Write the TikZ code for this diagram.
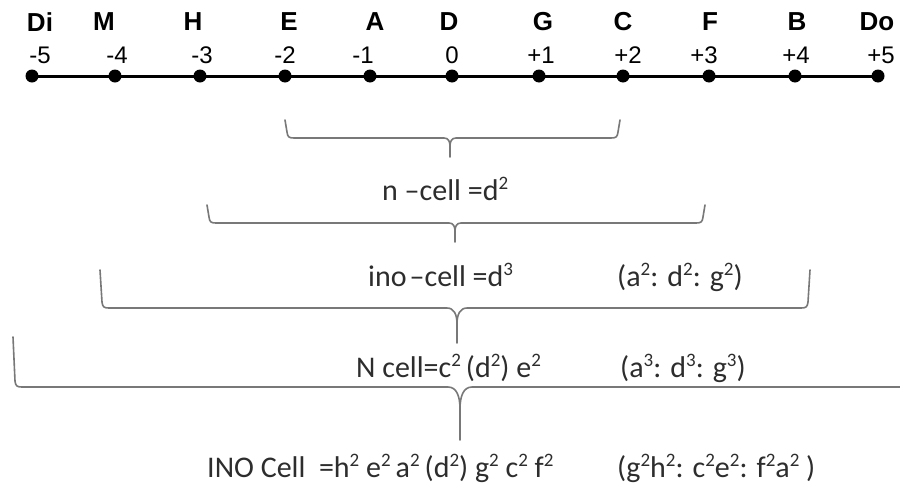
\documentclass[tikz,border=0pt]{standalone}
\usepackage{fontspec}
\setmainfont{Carlito}
\newfontfamily\arialfont{Liberation Sans}
\definecolor{bracegray}{RGB}{120,120,120}
\definecolor{txtgray}{RGB}{45,45,45}
\newcommand\spr[1]{\raisebox{0.36em}{\fontsize{19}{19}\selectfont #1}}
\newcommand\cbrace[8]{% left x, right x, top y, line y, tip x, bottom y, cusp w, cusp h
  \draw[bracestroke] (#1,#3) -- ({#1+2},{#4-6}) .. controls ({#1+2.6},{#4-1}) and ({#1+4},#4) .. ({#1+9},#4)
    -- ({#5-#7},#4) .. controls ({#5-0.3*#7},#4) and (#5,{#4+0.4*#8}) .. (#5,{#4+#8}) -- (#5,#6);
  \draw[bracestroke] (#2,#3) -- ({#2-2},{#4-6}) .. controls ({#2-2.6},{#4-1}) and ({#2-4},#4) .. ({#2-9},#4)
    -- ({#5+#7},#4) .. controls ({#5+0.3*#7},#4) and (#5,{#4+0.4*#8}) .. (#5,{#4+#8});
}
\begin{document}
\begin{tikzpicture}[x=1pt,y=-1pt,
  bracestroke/.style={draw=bracegray,line width=1.6pt,line cap=round,line join=round},
  dotnode/.style={circle,fill=black,inner sep=0pt,minimum size=13pt},
  letterlab/.style={font=\arialfont\bfseries\fontsize{26}{26}\selectfont,text=black,inner sep=0pt},
  numlab/.style={font=\arialfont\fontsize{24}{24}\selectfont,text=black,inner sep=0pt},
  celltext/.style={font=\fontsize{30}{30}\selectfont,text=txtgray,inner sep=0pt,anchor=base west}]
\useasboundingbox (0,0) rectangle (900,485);
\clip (0,0) rectangle (900,485);
\fill[white] (0,0) rectangle (900,485);
% number line points
\foreach \i/\x in {0/32,1/115,2/200,3/285,4/370,5/452,6/539,7/623,8/709,9/795,10/878}
  \coordinate (c\i) at (\x,76);
\draw[line width=3pt] (c0) -- (c10);
\foreach \i in {0,...,10} \node[dotnode] (p\i) at (c\i) {};
% letters
\foreach \n/\x/\t in {l0/40/Di,l1/104/M,l2/193/H,l3/289/E,l4/375/A,l5/449/D,l6/543/G,l7/623/C,l8/710/F,l9/797/B,l10/877/Do}
  \node[letterlab] (\n) at (\x,22) {\t};
% numbers
\foreach \n/\x/\t in {n0/40/-5,n1/117/-4,n2/202/-3,n3/285/-2,n4/363/-1,n5/452/0,n6/541/+1,n7/628/+2,n8/704/+3,n9/796/+4,n10/881/+5}
  \node[numlab] (\n) at (\x,55) {\t};
% braces
\cbrace{285}{620}{120}{138}{450}{157}{6}{8}
\cbrace{207}{705}{205}{223}{455}{242}{6}{8}
\cbrace{100}{810}{270}{308}{457}{343}{10}{16}
\cbrace{13}{930}{337}{387}{460}{440}{12}{22}
% texts
\node[celltext] (ncell) at (382,200) {n –cell =d\spr{2}};
\node[celltext] (inocell) at (368,286) {ino\hspace{0.1em}–cell =d\spr{3}};
\node[celltext] (ratioA) at (617,286) {(a\spr{2}: d\spr{2}: g\spr{2})};
\node[celltext] (Ncell) at (356,377) {N cell=c\spr{2}\,(d\spr{2}) e\spr{2}};
\node[celltext] (ratioB) at (620,377) {(a\spr{3}: d\spr{3}: g\spr{3})};
\node[celltext] (INOcell) at (207,477) {INO Cell\ \ =h\spr{2} e\spr{2}\,a\spr{2}\,(d\spr{2}) g\spr{2} c\spr{2} f\spr{2}};
\node[celltext] (ratioC) at (617,477) {(g\spr{2}h\spr{2}: c\spr{2}e\spr{2}: f\spr{2}a\spr{2} )};
\end{tikzpicture}
\end{document}
